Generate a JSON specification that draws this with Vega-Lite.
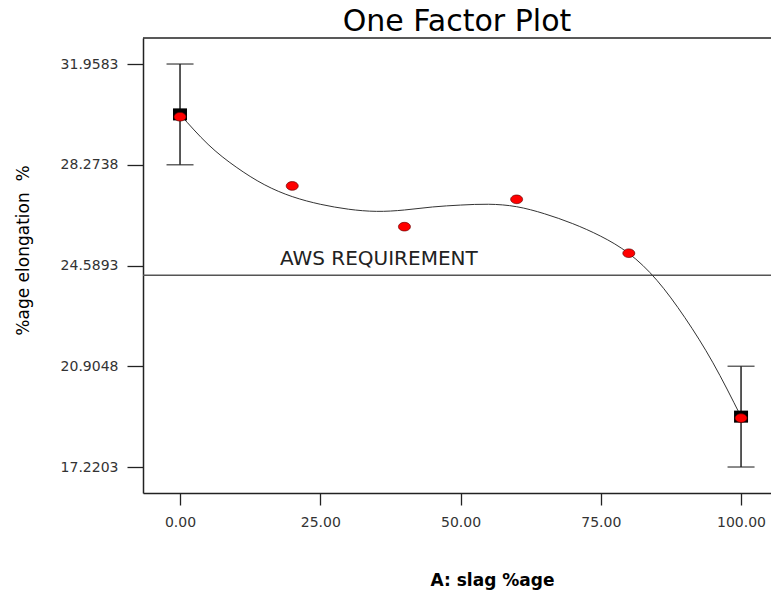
{
  "$schema": "https://vega.github.io/schema/vega-lite/v6.json",
  "width": 628,
  "height": 455,
  "autosize": {"type": "none"},
  "padding": {"left": 143, "top": 38, "right": 0, "bottom": 98},
  "background": "white",
  "config": {
    "view": {"stroke": null},
    "axis": {"grid": false, "labelFlush": false, "labelOverlap": false}
  },
  "title": {
    "text": "One Factor Plot",
    "font": "DejaVu Sans",
    "fontSize": 30,
    "fontWeight": "normal",
    "color": "#000000",
    "baseline": "alphabetic",
    "offset": 6,
    "dy": 30,
    "anchor": "middle"
  },
  "datasets": {
    "curve": [
      {"x": 0, "y": 30.12}, {"x": 5, "y": 29.02}, {"x": 10, "y": 28.19}, {"x": 15, "y": 27.55},
      {"x": 20, "y": 27.11}, {"x": 25, "y": 26.83}, {"x": 30, "y": 26.65}, {"x": 35, "y": 26.57},
      {"x": 40, "y": 26.62}, {"x": 45, "y": 26.73}, {"x": 50, "y": 26.8}, {"x": 55, "y": 26.83},
      {"x": 60, "y": 26.74}, {"x": 65, "y": 26.48}, {"x": 70, "y": 26.12}, {"x": 75, "y": 25.66},
      {"x": 80, "y": 25.03}, {"x": 85, "y": 24.05}, {"x": 90, "y": 22.68}, {"x": 95, "y": 21.03},
      {"x": 100, "y": 19.06}
    ],
    "actual": [
      {"x": 0, "y": 30.03}, {"x": 20, "y": 27.5}, {"x": 40, "y": 26.01},
      {"x": 60, "y": 27.01}, {"x": 80, "y": 25.04}, {"x": 100, "y": 19.01}
    ],
    "predicted": [
      {"x": 0, "y": 30.116, "lo": 28.2738, "hi": 31.9583},
      {"x": 100, "y": 19.0626, "lo": 17.2203, "hi": 20.9048}
    ],
    "aws": [{"x": 17.8, "y": 24.23, "label": "AWS REQUIREMENT"}]
  },
  "layer": [
    {
      "data": {"name": "aws"},
      "mark": {"type": "rule", "color": "#555555", "strokeWidth": 1.5},
      "encoding": {
        "y": {"field": "y", "type": "quantitative", "scale": {"domain": [16.27, 32.91], "nice": false, "zero": false}}
      }
    },
    {
      "data": {"name": "aws"},
      "mark": {"type": "rule", "color": "#222222", "strokeWidth": 1.5},
      "encoding": {
        "y": {"datum": 32.91, "type": "quantitative"}
      }
    },
    {
      "data": {"name": "curve"},
      "mark": {"type": "line", "color": "#333333", "strokeWidth": 1, "interpolate": "natural"},
      "encoding": {
        "x": {
          "field": "x", "type": "quantitative",
          "scale": {"domain": [-6.6, 105.34], "nice": false, "zero": false},
          "axis": {
            "values": [0, 25, 50, 75, 100], "format": ".2f",
            "tickSize": 12, "tickColor": "#222222", "tickWidth": 1.3,
            "domain": true, "domainColor": "#222222", "domainWidth": 1.5,
            "labelPadding": 10, "labelFont": "DejaVu Sans", "labelFontSize": 14, "labelColor": "#333333",
            "title": "A: slag %age", "titleFont": "DejaVu Sans", "titleFontSize": 17, "titleFontWeight": "bold",
            "titleColor": "#000000", "titleX": 349, "titleY": 92, "titleBaseline": "alphabetic", "titleAlign": "center"
          }
        },
        "y": {
          "field": "y", "type": "quantitative",
          "scale": {"domain": [16.27, 32.91], "nice": false, "zero": false},
          "axis": {
            "values": [17.2203, 20.9048, 24.5893, 28.2738, 31.9583], "format": ".4f",
            "tickSize": 16, "tickColor": "#222222", "tickWidth": 1.3,
            "domain": true, "domainColor": "#222222", "domainWidth": 1.5,
            "labelPadding": 9, "labelFont": "DejaVu Sans", "labelFontSize": 14, "labelColor": "#333333",
            "title": "%age elongation \u00a0%", "titleFont": "DejaVu Sans", "titleFontSize": 17, "titleFontWeight": "normal",
            "titleColor": "#000000", "titleX": -115, "titleY": 212, "titleAngle": -90,
            "titleBaseline": "alphabetic", "titleAlign": "center"
          }
        }
      }
    },
    {
      "data": {"name": "predicted"},
      "mark": {"type": "rule", "color": "#222222", "strokeWidth": 1.5},
      "encoding": {
        "x": {"field": "x", "type": "quantitative"},
        "y": {"field": "lo", "type": "quantitative"},
        "y2": {"field": "hi"}
      }
    },
    {
      "data": {"name": "predicted"},
      "mark": {"type": "tick", "orient": "horizontal", "color": "#222222", "size": 27, "thickness": 1.5},
      "encoding": {
        "x": {"field": "x", "type": "quantitative"},
        "y": {"field": "hi", "type": "quantitative"}
      }
    },
    {
      "data": {"name": "predicted"},
      "mark": {"type": "tick", "orient": "horizontal", "color": "#222222", "size": 27, "thickness": 1.5},
      "encoding": {
        "x": {"field": "x", "type": "quantitative"},
        "y": {"field": "lo", "type": "quantitative"}
      }
    },
    {
      "data": {"name": "predicted"},
      "mark": {"type": "point", "filled": true, "shape": "M-1,-0.86L1,-0.86L1,0.86L-1,0.86Z", "size": 196, "color": "#000000", "opacity": 1},
      "encoding": {
        "x": {"field": "x", "type": "quantitative"},
        "y": {"field": "y", "type": "quantitative"}
      }
    },
    {
      "data": {"name": "actual"},
      "mark": {"type": "point", "filled": true, "shape": "M-1,0A1,0.72 0 1,0 1,0A1,0.72 0 1,0 -1,0Z", "size": 144, "fill": "#ff0000", "stroke": "#660000", "strokeWidth": 0.7, "opacity": 1},
      "encoding": {
        "x": {"field": "x", "type": "quantitative"},
        "y": {"field": "y", "type": "quantitative"}
      }
    },
    {
      "data": {"name": "aws"},
      "mark": {"type": "text", "align": "left", "baseline": "alphabetic", "dy": -10.5, "font": "DejaVu Sans", "fontSize": 20, "color": "#222222"},
      "encoding": {
        "x": {"field": "x", "type": "quantitative"},
        "y": {"field": "y", "type": "quantitative"},
        "text": {"field": "label"}
      }
    }
  ]
}
